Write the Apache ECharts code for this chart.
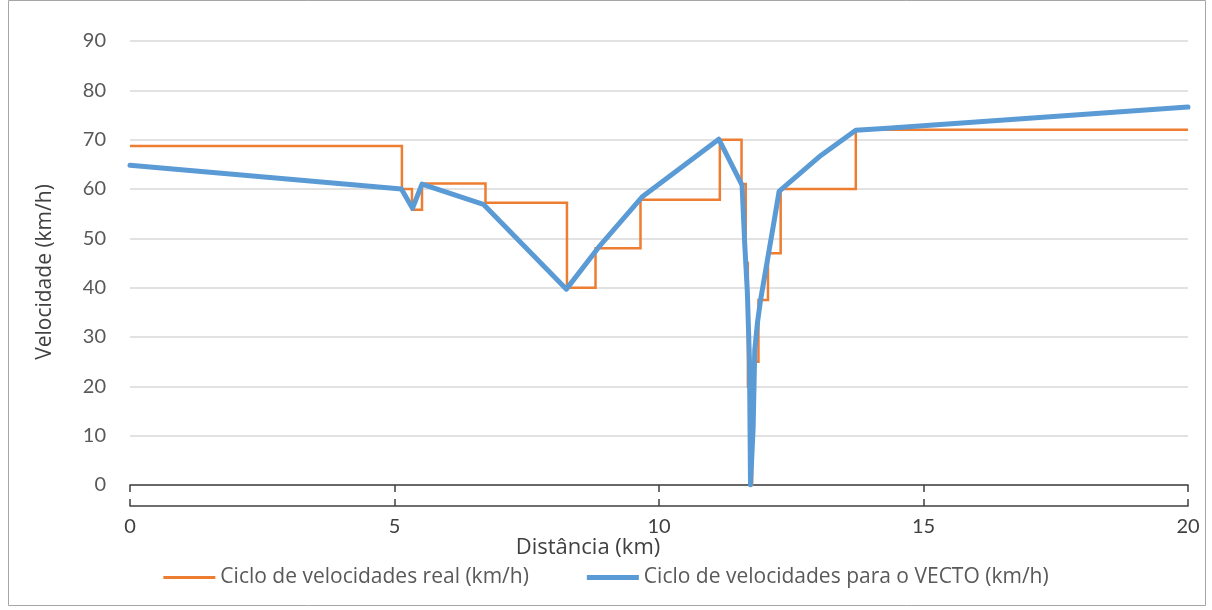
<!DOCTYPE html>
<html>
<head>
<meta charset="utf-8">
<script src="https://cdn.jsdelivr.net/npm/echarts@6/dist/echarts.min.js"></script>
<style>
  html, body { margin: 0; padding: 0; background: #fff; }
  #chart { width: 1212px; height: 610px; }
</style>
</head>
<body>
<div id="chart"></div>
<script>
// Real speed cycle: each entry starts a constant-speed step (km, km/h)
const realDist  = [0, 5.14, 5.33, 5.52, 6.72, 8.26, 8.80, 9.65, 11.15, 11.56, 11.64, 11.68, 11.72, 11.76, 11.80, 11.88, 12.06, 12.30, 13.72, 20];
const realSpeed = [68.7, 60, 55.8, 61.1, 57.2, 40, 48, 57.8, 70, 61, 45, 20, 0, 15, 25, 37.5, 47, 60, 72, 72];

// Speed cycle prepared for VECTO (km, km/h)
const vectoDist  = [0, 5.13, 5.34, 5.52, 6.68, 8.25, 8.86, 9.69, 11.13, 11.57, 11.62, 11.67, 11.71, 11.73, 11.78, 11.81, 11.86, 11.92, 12.05, 12.17, 12.27, 13.06, 13.72, 14.32, 20];
const vectoSpeed = [64.8, 60, 56.1, 61.0, 56.9, 39.7, 48.2, 58.5, 70.1, 60.8, 49.0, 39.1, 25.3, 0, 11.7, 27.3, 32.8, 37.5, 45.6, 53.1, 59.5, 66.8, 71.9, 72.3, 76.6];

const xTicks = [0, 5, 10, 15, 20];
const yTicks = [0, 10, 20, 30, 40, 50, 60, 70, 80, 90];

const seriesNames = ['Ciclo de velocidades real (km/h)', 'Ciclo de velocidades para o VECTO (km/h)'];

const pairs = (xs, ys) => xs.map((x, i) => [x, ys[i]]);

const FONT = 'Lato, "Open Sans", sans-serif';
const TEXT_FONT = '"Open Sans", Lato, sans-serif';

const chart = echarts.init(document.getElementById('chart'), null, { renderer: 'canvas' });

const xCommon = {
  type: 'value',
  min: xTicks[0],
  max: xTicks[xTicks.length - 1],
  interval: 5,
  offset: 21,
  splitLine: { show: false },
  axisLine: { show: true, lineStyle: { color: '#404040', width: 1.5 } }
};

chart.setOption({
  animation: false,
  backgroundColor: '#fff',
  textStyle: { fontFamily: FONT },
  grid: { left: 130, right: 24, top: 41, bottom: 125, containLabel: false },
  xAxis: [
    Object.assign({}, xCommon, {
      axisTick: { show: true, inside: false, length: 7, lineStyle: { color: '#404040', width: 1.5 } },
      axisLabel: { show: true, color: '#404040', fontSize: 20, fontFamily: FONT, margin: 11 }
    }),
    Object.assign({}, xCommon, {
      position: 'bottom',
      axisTick: { show: true, inside: true, length: 7, lineStyle: { color: '#404040', width: 1.5 } },
      axisLabel: { show: false }
    })
  ],
  yAxis: {
    type: 'value',
    min: yTicks[0],
    max: yTicks[yTicks.length - 1],
    interval: 10,
    axisLine: { show: false },
    axisTick: { show: false },
    axisLabel: { color: '#595959', fontSize: 20, fontFamily: FONT, margin: 24 },
    splitLine: { show: true, lineStyle: { color: '#D9D9D9', width: 1.5 } }
  },
  legend: {
    bottom: 17,
    left: 'center',
    itemWidth: 52,
    itemHeight: 12,
    itemGap: 58,
    symbolKeepAspect: true,
    textStyle: { color: '#595959', fontSize: 21, fontFamily: TEXT_FONT },
    data: [
      { name: seriesNames[0], icon: 'path://M0,0H52V3H0Z' },
      { name: seriesNames[1], icon: 'path://M0,0H52V5H0Z' }
    ]
  },
  graphic: [
    {
      type: 'rect',
      silent: true,
      shape: { x: 8.5, y: 0.5, width: 1197, height: 605 },
      style: { fill: 'none', stroke: '#A6A6A6', lineWidth: 1 }
    },
    {
      type: 'text',
      silent: true,
      x: 588, y: 548,
      style: { text: 'Distância (km)', fill: '#404040', font: '22px ' + TEXT_FONT, textAlign: 'center', textVerticalAlign: 'middle' }
    },
    {
      type: 'text',
      silent: true,
      x: 45, y: 272,
      rotation: Math.PI / 2,
      style: { text: 'Velocidade (km/h)', fill: '#404040', font: '21px ' + TEXT_FONT, textAlign: 'center', textVerticalAlign: 'middle' }
    }
  ],
  series: [
    {
      name: seriesNames[0],
      type: 'line',
      step: 'end',
      data: pairs(realDist, realSpeed),
      showSymbol: false,
      symbol: 'none',
      color: '#ED7D31',
      lineStyle: { color: '#ED7D31', width: 2.5, join: 'miter' },
      z: 2
    },
    {
      name: seriesNames[1],
      type: 'line',
      data: pairs(vectoDist, vectoSpeed),
      showSymbol: false,
      symbol: 'none',
      color: '#5B9BD5',
      lineStyle: { color: '#5B9BD5', width: 5, cap: 'round', join: 'round' },
      z: 3
    }
  ]
});
</script>
</body>
</html>
